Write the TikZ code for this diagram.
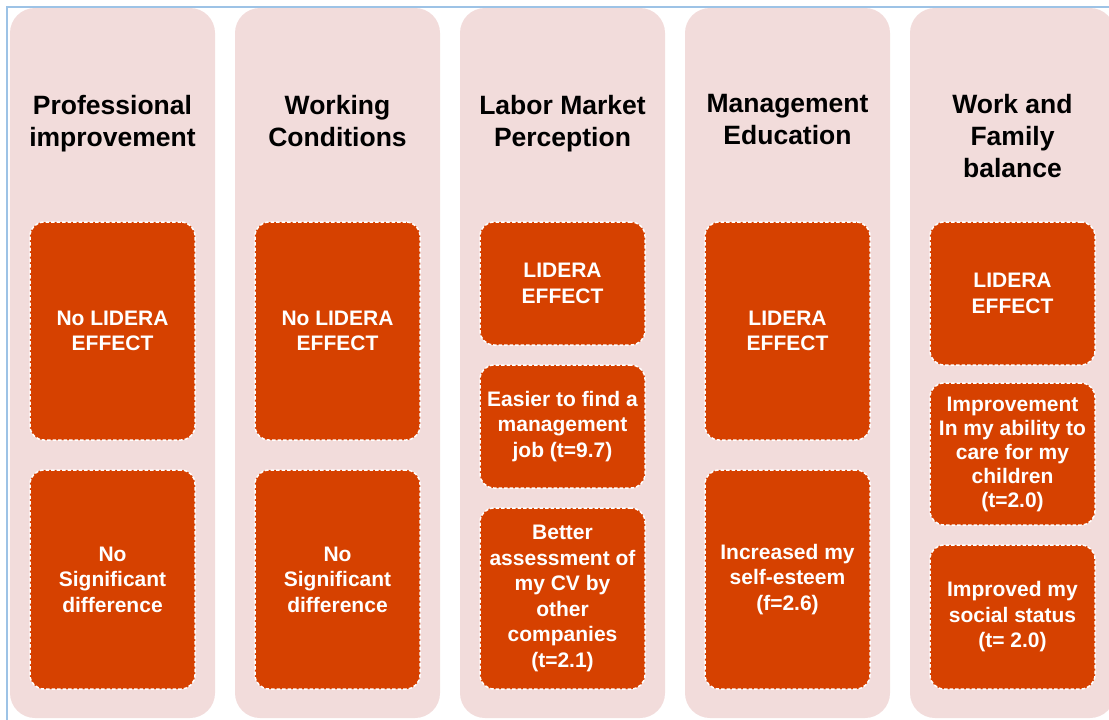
\documentclass[tikz,border=0pt]{standalone}
\usepackage{fontspec}
\setmainfont{Liberation Sans}
\definecolor{colpink}{RGB}{242,220,219}
\definecolor{fxorange}{RGB}{214,65,0}
\definecolor{framblue}{RGB}{157,195,230}
\tikzset{
  col/.style={rectangle,fill=colpink,rounded corners=25pt,minimum width=205pt,minimum height=710pt,inner sep=0pt},
  hdr/.style={anchor=north,inner sep=0pt,align=center,font=\fontsize{26.5}{32}\selectfont\bfseries},
  fx/.style={rectangle,draw=white,fill=fxorange,rounded corners=14pt,line width=1.5pt,dash pattern=on 3.5pt off 2pt,minimum width=165pt,inner sep=0pt,align=center,text=white,font=\fontsize{21}{25.5}\selectfont\bfseries}
}
\begin{document}
\begin{tikzpicture}[x=1pt,y=-1pt]
\useasboundingbox (0,0) rectangle (1109,720);
\draw[framblue,line width=1.5pt] (7,730) -- (7,7) -- (1120,7);

% columns
\node[col] (c1) at (112.5,363) {};
\node[col] (c2) at (337.5,363) {};
\node[col] (c3) at (562.5,363) {};
\node[col] (c4) at (787.5,363) {};
\node[col] (c5) at (1012.5,363) {};

% headings
\node[hdr] (h1) at (112.5,95) {Professional\\improvement};
\node[hdr] (h2) at (337.5,95) {Working\\Conditions};
\node[hdr] (h3) at (562.5,95) {Labor Market\\Perception};
\node[hdr] (h4) at (787.5,94) {Management\\Education};
\node[hdr] (h5) at (1012.5,94) {Work and\\Family\\balance};

% effect boxes
\node[fx,minimum height=218pt] (e11) at (112.5,331) {No LIDERA\\EFFECT};
\node[fx,minimum height=219pt] (e12) at (112.5,579.5) {No\\Significant\\difference};

\node[fx,minimum height=218pt] (e21) at (337.5,331) {No LIDERA\\EFFECT};
\node[fx,minimum height=219pt] (e22) at (337.5,579.5) {No\\Significant\\difference};

\node[fx,minimum height=123pt] (e31) at (562.5,283.5) {LIDERA\\EFFECT};
\node[fx,minimum height=123pt] (e32) at (562.5,426.5) {Easier to find a\\management\\job (t=9.7)};
\node[fx,minimum height=181pt] (e33) at (562.5,598.5) {Better\\assessment of\\my CV by\\other\\companies\\(t=2.1)};

\node[fx,minimum height=218pt] (e41) at (787.5,331) {LIDERA\\EFFECT};
\node[fx,minimum height=219pt] (e42) at (787.5,579.5) {Increased my\\self-esteem\\(f=2.6)};

\node[fx,minimum height=143pt] (e51) at (1012.5,293.5) {LIDERA\\EFFECT};
\node[fx,minimum height=142pt,font=\fontsize{21}{24}\selectfont\bfseries] (e52) at (1012.5,454) {Improvement\\In my ability to\\care for my\\children\\(t=2.0)};
\node[fx,minimum height=144pt] (e53) at (1012.5,617) {Improved my\\social status\\(t= 2.0)};

\end{tikzpicture}
\end{document}
